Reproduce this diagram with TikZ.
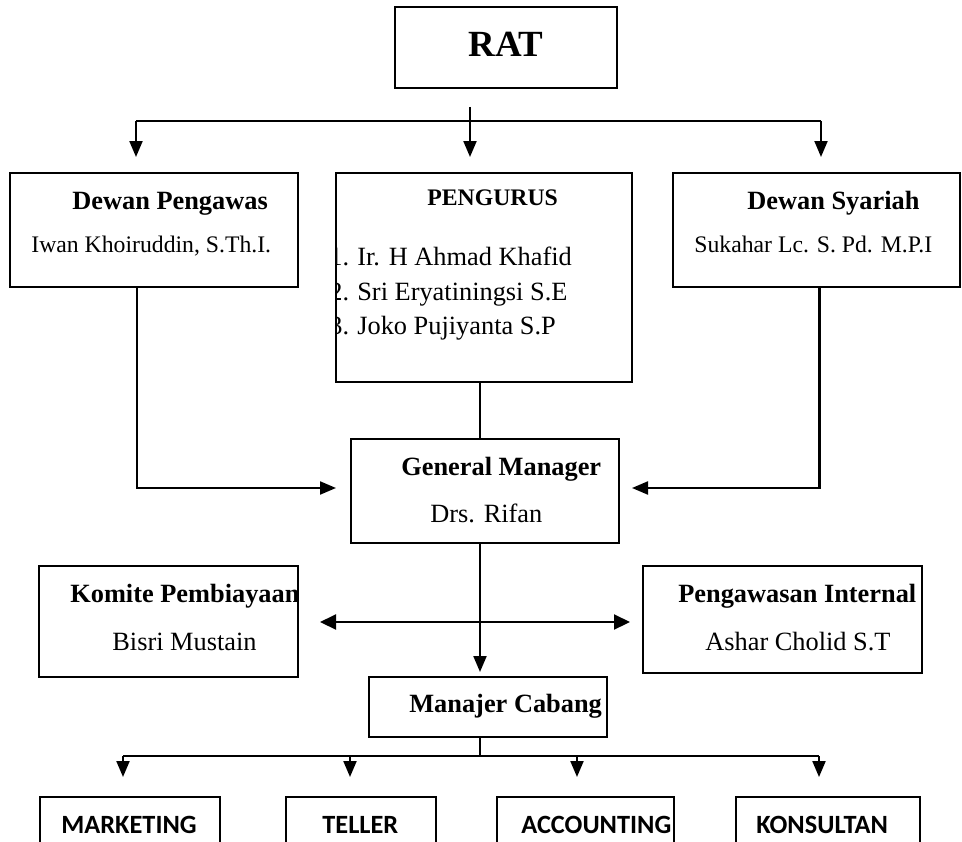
\documentclass[tikz,border=0pt]{standalone}
\usepackage{fontspec}
\setmainfont{Liberation Serif}
\newfontfamily\calibri{Carlito}
\usetikzlibrary{arrows.meta}

\tikzset{
  box/.style={draw, line width=1pt, inner sep=0pt},
  ln/.style={line width=1.2pt},
  arr/.style={ln, -{Triangle[length=0.32cm,width=0.26cm]}},
  ttl/.style={anchor=base west, inner sep=0pt, font=\bfseries\fontsize{15}{18}\selectfont},
  ttlsmall/.style={anchor=base west, inner sep=0pt, font=\bfseries\fontsize{13.5}{16}\selectfont},
  nm/.style={anchor=base west, inner sep=0pt, font=\fontsize{15}{18}\selectfont},
  nmsmall/.style={anchor=base west, inner sep=0pt, font=\fontsize{13.5}{16}\selectfont},
  unit/.style={anchor=base west, inner sep=0pt, font=\calibri\bfseries\fontsize{15}{18}\selectfont}
}

\begin{document}
\begin{tikzpicture}[x=0.02cm, y=-0.02cm]
  \useasboundingbox (0,0) rectangle (962,841);
  \fill[white] (0,0) rectangle (962,841);
  \clip (0,0) rectangle (962,841);

  % boxes
  \node[box, minimum width=4.44cm, minimum height=1.62cm] (rat) at (506,47.5) {};
  \node[box, minimum width=5.76cm, minimum height=2.28cm] (pengawas) at (154,230) {};
  \node[box, minimum width=5.92cm, minimum height=4.18cm] (pengurus) at (484,277.5) {};
  \node[box, minimum width=5.74cm, minimum height=2.28cm] (syariah) at (816.5,230) {};
  \node[box, minimum width=5.36cm, minimum height=2.08cm] (gm) at (485,491) {};
  \node[box, minimum width=5.18cm, minimum height=2.22cm] (komite) at (168.5,621.5) {};
  \node[box, minimum width=5.58cm, minimum height=2.14cm] (pi) at (782.5,619.5) {};
  \node[box, minimum width=4.76cm, minimum height=1.2cm] (mc) at (488,707) {};
  \node[box, minimum width=3.6cm, minimum height=1.46cm] (mkt) at (130,833.5) {};
  \node[box, minimum width=3.0cm, minimum height=1.46cm] (tel) at (361,833.5) {};
  \node[box, minimum width=3.54cm, minimum height=1.46cm] (acc) at (585.5,833.5) {};
  \node[box, minimum width=3.68cm, minimum height=1.46cm] (kon) at (828,833.5) {};

  % texts
  \node[anchor=base, inner sep=0pt, font=\bfseries\fontsize{21}{25}\selectfont] (rat-t) at (506,57) {RAT};
  \node[ttl] (pengawas-t) at (72,209) {Dewan Pengawas};
  \node[nmsmall] (pengawas-n) at (31,252) {Iwan Khoiruddin, S.Th.I.};
  \node[ttlsmall] (pengurus-t) at (427,205) {PENGURUS};
  \begin{scope}
    \clip (pengurus.south west) rectangle (pengurus.north east);
    \node[nm] (l1) at (329,265) {\makebox[0.56cm][l]{1.}Ir. H Ahmad Khafid};
    \node[nm] (l2) at (329,300) {\makebox[0.56cm][l]{2.}Sri Eryatiningsi S.E};
    \node[nm] (l3) at (329,334) {\makebox[0.56cm][l]{3.}Joko Pujiyanta S.P};
  \end{scope}
  \node[ttl] (syariah-t) at (747,209) {Dewan Syariah};
  \node[nmsmall] (syariah-n) at (694,252) {Sukahar Lc. S. Pd. M.P.I};
  \node[ttl] (gm-t) at (401,475) {General Manager};
  \node[nm] (gm-n) at (430,522) {Drs. Rifan};
  \node[ttl] (komite-t) at (70,602) {Komite Pembiayaan};
  \node[nm] (komite-n) at (112,650) {Bisri Mustain};
  \node[ttl] (pi-t) at (678,602) {Pengawasan Internal};
  \node[nm] (pi-n) at (705,650) {Ashar Cholid S.T};
  \node[ttl] (mc-t) at (409,712) {Manajer Cabang};
  \node[unit] (mkt-t) at (61,833) {MARKETING};
  \node[unit] (tel-t) at (322,833) {TELLER};
  \node[unit] (acc-t) at (521,833) {ACCOUNTING};
  \node[unit] (kon-t) at (756,833) {KONSULTAN};

  % RAT to the three boards
  \coordinate (stub) at (470,107);
  \coordinate (topbus) at (0,121);
  \coordinate (t1) at (136,157);
  \coordinate (t2) at (470,157);
  \coordinate (t3) at (821,157);
  \draw[ln] (t1 |- topbus) -- (t3 |- topbus);
  \draw[arr] (t1 |- topbus) -- (t1);
  \draw[arr] (t3 |- topbus) -- (t3);
  \draw[arr] (stub) -- (t2);

  % into general manager
  \coordinate (axis) at (480,0);
  \coordinate (gl) at (336,488);
  \coordinate (gr) at (632,488);
  \draw[ln] (axis |- pengurus.south) -- (axis |- gm.north);
  \draw[arr] ([xshift=-0.34cm]pengawas.south) |- (gl);
  \draw[arr] ([xshift=0.06cm]syariah.south) |- (gr);

  % general manager down
  \coordinate (mctop) at (480,672);
  \coordinate (dl) at (320,622);
  \coordinate (dr) at (630,622);
  \draw[arr] (axis |- gm.south) -- (mctop);
  \draw[ln, {Triangle[length=0.32cm,width=0.3cm]}-{Triangle[length=0.32cm,width=0.3cm]}] (dl) -- (dr);

  % manajer cabang to units
  \coordinate (bus) at (0,756);
  \coordinate (b1) at (123,777);
  \coordinate (b2) at (350,777);
  \coordinate (b3) at (577,777);
  \coordinate (b4) at (819,777);
  \draw[ln] (axis |- mc.south) -- (axis |- bus);
  \draw[ln] (b1 |- bus) -- (b4 |- bus);
  \foreach \b in {b1,b2,b3,b4}
    \draw[arr] (\b |- bus) -- (\b);
\end{tikzpicture}
\end{document}
